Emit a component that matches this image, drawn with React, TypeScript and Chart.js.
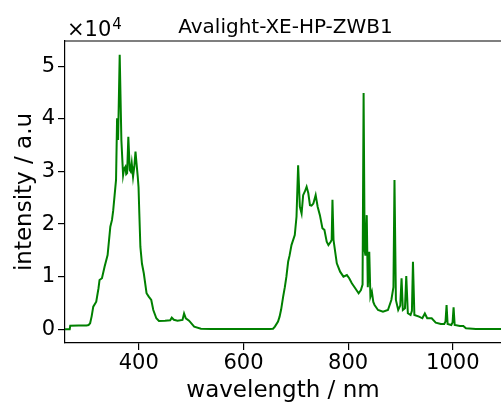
import React, { useEffect, useRef } from 'react';
import { Chart, registerables } from 'chart.js';

Chart.register(...registerables);

const wavelengths = [
  259, 268, 269, 285, 300, 304, 307, 310, 313, 318.7, 323, 325, 329.6, 334.6, 340.4, 345.6, 348.8, 351, 353.8, 356.5,
  358.5, 360.4, 363.5, 366.7, 370, 372, 374.4, 376, 377.7, 380, 382.7, 384.5, 386.5, 389, 391.5, 393.7, 395.6, 398,
  399.5, 401, 403, 406, 409.6, 414.8, 419, 423.8, 427.7, 433.5, 438.5, 450, 460, 463, 467, 474, 483.5, 486.5, 489.8,
  496, 505.8, 518.7, 540, 600, 650, 656.5, 660, 666, 669, 672, 675.8, 679, 682, 685.4, 688, 691.7, 698, 701.3, 704.4,
  707.7, 711, 714, 717.3, 720.6, 723.8, 727, 730, 733.5, 737.9, 741.7, 746, 750.8, 754.6, 759, 762.3, 766.7, 768.5,
  770, 772, 773, 778.3, 784.6, 791, 797.5, 802, 807, 813.5, 820, 824.4, 827.5, 829.5, 831.5, 833, 835.5, 837.5, 840.3,
  842.5, 845.3, 848, 850.4, 857, 866.5, 876, 882.5, 886.5, 888.5, 891.2, 895.6, 899.5, 902, 904.5, 908.5, 911, 914,
  919.2, 921.8, 923.8, 926.5, 935.4, 941.7, 946.5, 951, 959.6, 967.3, 977, 983.5, 986, 988, 990, 997, 999.5, 1001.4,
  1003.5, 1013.5, 1020, 1025, 1044, 1100,
];

const intensities = [
  0, 0, 680, 700, 720, 800, 1150, 2500, 4300, 5250, 7800, 9370, 9700, 11900, 14100, 19500, 20800, 22500, 25500, 28400,
  40100, 36000, 52200, 36000, 29300, 30500, 30900, 29500, 29700, 36600, 30300, 30000, 31600, 29000, 31000, 33800, 31600, 29000,
  27000, 22000, 15700, 12500, 10600, 6850, 6200, 5570, 3670, 2090, 1580, 1600, 1700, 2200, 1800, 1640, 1770, 3000, 2090,
  1640, 500, 120, 50, 30, 60, 100, 500, 1450, 2400, 3800, 6200, 8000, 10000, 12900, 14000, 16000, 17900, 21400, 31200,
  23300, 22000, 25500, 26200, 27100, 25900, 23600, 23500, 23900, 25500, 23300, 21700, 19200, 18900, 16650, 16000, 16650, 17000,
  24600, 17000, 16300, 12550, 10950, 10000, 10300, 9700, 8750, 7800, 6850, 7470, 8500, 44900, 15000, 14000, 21700, 8000, 14750,
  6200, 7150, 5200, 4620, 3670, 3350, 3670, 5570, 8000, 28400, 5570, 3670, 4500, 9700, 3670, 4000, 10130, 3040,
  2720, 3500, 12850, 2720, 2400, 2090, 3000, 2090, 2090, 1250, 1000, 1000, 1500, 4620, 1000, 820, 1300, 4180,
  820, 630, 630, 190, 60, 30,
];

const xTickValues = [400, 600, 800, 1000];
const yTickValues = [0, 10000, 20000, 30000, 40000, 50000];
const yScaleFactor = 10000;
const yExponent = '4';
const chartTitle = 'Avalight-XE-HP-ZWB1';
const xAxisLabel = 'wavelength / nm';
const yAxisLabel = 'intensity / a.u';

const FONT = '"DejaVu Sans", sans-serif';

const decorPlugin = {
  id: 'decor',
  afterDraw(chart: any) {
    const { ctx, chartArea } = chart;
    ctx.save();
    // top spine
    ctx.strokeStyle = '#000';
    ctx.lineWidth = 1.2;
    ctx.beginPath();
    ctx.moveTo(chartArea.left - 0.6, chartArea.top);
    ctx.lineTo(chartArea.right, chartArea.top);
    ctx.stroke();
    // title
    ctx.fillStyle = '#000';
    ctx.font = `20px ${FONT}`;
    ctx.textAlign = 'center';
    ctx.textBaseline = 'alphabetic';
    ctx.fillText(chartTitle, 285.5, 33);
    // offset text
    ctx.textAlign = 'left';
    ctx.font = `21px ${FONT}`;
    ctx.fillText('\u00d710', 67, 36);
    const w = ctx.measureText('\u00d710').width;
    ctx.font = `15px ${FONT}`;
    ctx.fillText(yExponent, 67 + w + 1, 29);
    ctx.restore();
  },
};

export default function App() {
  const ref = useRef<HTMLCanvasElement | null>(null);
  useEffect(() => {
    if (!ref.current) return;
    const points = wavelengths.map((x, i) => ({ x, y: intensities[i] }));
    const chart = new Chart(ref.current, {
      type: 'line',
      data: {
        datasets: [
          {
            data: points,
            borderColor: '#008000',
            borderWidth: 2,
            pointRadius: 0,
            tension: 0,
            fill: false,
          },
        ],
      },
      options: {
        animation: false,
        responsive: true,
        maintainAspectRatio: false,
        layout: { padding: { top: 41, left: 0, right: 0, bottom: 0 } },
        plugins: {
          legend: { display: false },
          tooltip: { enabled: false },
          title: { display: false },
        },
        scales: {
          x: {
            type: 'linear',
            min: 259,
            max: 1092,
            afterFit(scale: any) {
              scale.height = 60;
            },
            afterBuildTicks(scale: any) {
              scale.ticks = xTickValues.map((v) => ({ value: v }));
            },
            ticks: {
              autoSkip: false,
              maxRotation: 0,
              padding: 1,
              color: '#000',
              font: { family: FONT, size: 21 },
              callback: (v: any) => String(v),
            },
            grid: { drawOnChartArea: false, drawTicks: true, tickLength: 7, color: '#000', lineWidth: 1.2 },
            border: { display: true, color: '#000', width: 1.2 },
            title: {
              display: true,
              text: xAxisLabel,
              color: '#000',
              font: { family: FONT, size: 23 },
              padding: { top: 0, bottom: -2 },
            },
          },
          y: {
            type: 'linear',
            min: -2610,
            max: 54810,
            afterFit(scale: any) {
              scale.width = 65;
            },
            afterBuildTicks(scale: any) {
              scale.ticks = yTickValues.map((v) => ({ value: v }));
            },
            ticks: {
              padding: 3,
              color: '#000',
              font: { family: FONT, size: 21 },
              callback: (v: any) => String(Math.round(Number(v) / yScaleFactor)),
            },
            grid: { drawOnChartArea: false, drawTicks: true, tickLength: 7, color: '#000', lineWidth: 1.2 },
            border: { display: true, color: '#000', width: 1.2 },
            title: {
              display: true,
              text: yAxisLabel,
              color: '#000',
              font: { family: FONT, size: 23 },
              padding: { top: 11, bottom: 0 },
            },
          },
        },
      },
      plugins: [decorPlugin],
    });
    return () => chart.destroy();
  }, []);
  return (
    <div style={{ position: 'fixed', left: 0, top: 0, width: 501, height: 403, background: '#fff' }}>
      <canvas ref={ref} />
    </div>
  );
}
